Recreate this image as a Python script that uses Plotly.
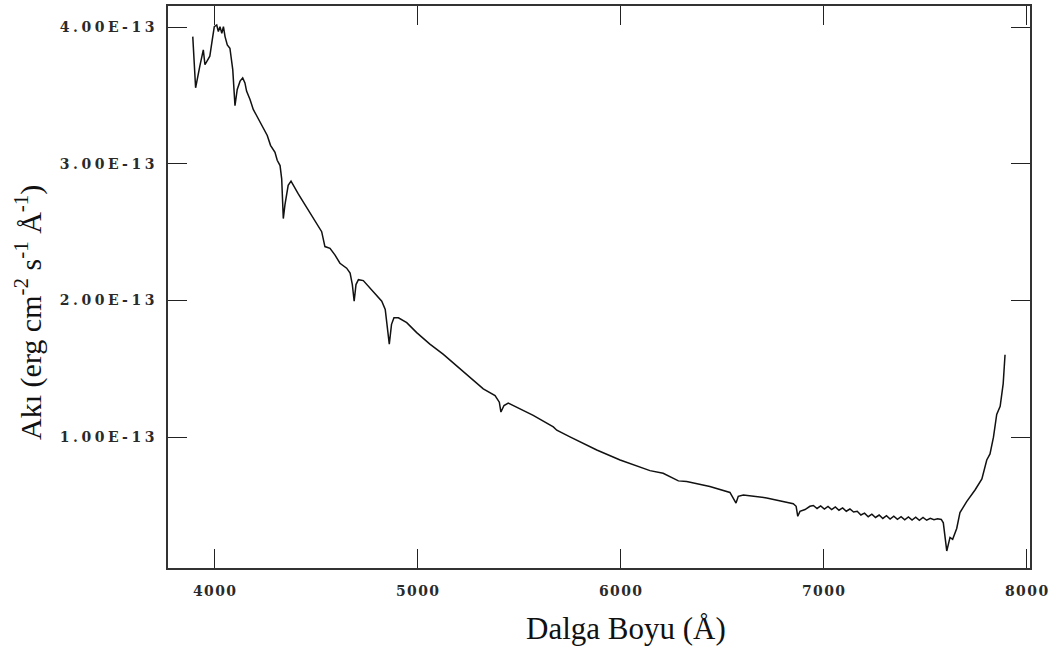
import numpy as np
import plotly.graph_objects as go

# Wavelength (Angstrom) and flux (units of 1e-13 erg cm^-2 s^-1 A^-1)
wavelength = [
    3893, 3907, 3928, 3945, 3953, 3969, 3977, 3989, 3999, 4011, 4019, 4027, 4036, 4044,
    4052, 4063, 4076, 4090, 4101, 4112, 4126, 4139, 4150, 4158, 4175, 4191, 4207, 4232,
    4260, 4276, 4298, 4309, 4323, 4331, 4339, 4347, 4363, 4377, 4388, 4412, 4437, 4471,
    4504, 4528, 4544, 4569, 4593, 4618, 4651, 4668, 4679, 4688, 4697, 4709, 4733, 4758,
    4791, 4824, 4841, 4851, 4861, 4872, 4884, 4906, 4947, 4996, 5061, 5126, 5209, 5275,
    5324, 5382, 5403, 5411, 5426, 5447, 5505, 5537, 5570, 5669, 5686, 5751, 5883, 5998,
    6145, 6210, 6260, 6285, 6326, 6440, 6539, 6556, 6569, 6580, 6605, 6720, 6851, 6865,
    6873, 6884, 6909, 6933,
    6950, 6968, 6986, 7004, 7022, 7040, 7058, 7076, 7094, 7112, 7130, 7148, 7166, 7184,
    7202, 7220, 7238, 7256, 7274, 7292, 7310, 7328, 7346, 7364, 7382, 7400, 7418, 7436,
    7454, 7472, 7490, 7508, 7526, 7544, 7562, 7580,
    7590, 7607, 7623, 7636, 7656, 7672, 7705, 7747, 7780, 7804, 7820, 7837, 7853, 7870,
    7885, 7894,
]
flux_e13 = [
    3.932, 3.557, 3.717, 3.835, 3.726, 3.762, 3.789, 3.908, 4.005, 4.017, 3.969, 4.005, 3.956, 4.005,
    3.932, 3.871, 3.847, 3.690, 3.426, 3.545, 3.606, 3.630, 3.593, 3.533, 3.472, 3.399, 3.354, 3.281,
    3.208, 3.136, 3.085, 3.027, 2.988, 2.891, 2.600, 2.700, 2.843, 2.874, 2.843, 2.782, 2.722, 2.637,
    2.564, 2.504, 2.395, 2.382, 2.334, 2.273, 2.237, 2.201, 2.117, 1.995, 2.117, 2.153, 2.146, 2.104,
    2.055, 1.995, 1.935, 1.801, 1.681, 1.826, 1.874, 1.874, 1.838, 1.765, 1.681, 1.608, 1.499, 1.414,
    1.354, 1.305, 1.256, 1.184, 1.232, 1.249, 1.208, 1.184, 1.160, 1.075, 1.051, 1.002, 0.906, 0.833,
    0.755, 0.736, 0.700, 0.680, 0.675, 0.639, 0.595, 0.555, 0.518, 0.567, 0.577, 0.555, 0.513, 0.494,
    0.421, 0.457, 0.470, 0.494,
    0.500, 0.478, 0.497, 0.474, 0.493, 0.470, 0.489, 0.465, 0.482, 0.458, 0.474, 0.452, 0.458, 0.430,
    0.444, 0.418, 0.436, 0.412, 0.430, 0.405, 0.425, 0.400, 0.421, 0.398, 0.418, 0.395, 0.416, 0.393,
    0.414, 0.392, 0.412, 0.392, 0.406, 0.396, 0.402, 0.398,
    0.373, 0.167, 0.266, 0.252, 0.332, 0.448, 0.528, 0.615, 0.695, 0.833, 0.877, 1.000, 1.167, 1.225,
    1.392, 1.603,
]

x_ticks = [4000, 5000, 6000, 7000, 8000]
x_tick_labels = ["4000", "5000", "6000", "7000", "8000"]
y_ticks = [1e-13, 2e-13, 3e-13, 4e-13]
y_tick_labels = ["1.00E-13", "2.00E-13", "3.00E-13", "4.00E-13"]

flux = np.array(flux_e13) * 1e-13


def spaced(s, sep=" "):
    return "<b>" + sep.join(list(s)) + "</b>"


fig = go.Figure()
fig.add_trace(go.Scatter(
    x=wavelength, y=flux, mode="lines",
    line=dict(color="#111111", width=1.5),
    showlegend=False, hoverinfo="skip",
))

axis_common = dict(
    showline=True, linecolor="#333333", linewidth=1.6, mirror="allticks",
    ticks="inside", ticklen=19, tickwidth=1.4, tickcolor="#222222",
    showgrid=False, zeroline=False,
)

fig.update_xaxes(
    range=[3771, 8017], tickvals=x_ticks,
    ticktext=[spaced(t, "\u200a") for t in x_tick_labels],
    tickfont=dict(family="DejaVu Serif", size=14, color="#2a2a2a"),
    ticklabelstandoff=9, **axis_common,
)
fig.update_yaxes(
    range=[0.0423e-13, 4.156e-13], tickvals=y_ticks,
    ticktext=[spaced(t, "\u2005") for t in y_tick_labels],
    tickfont=dict(family="DejaVu Serif", size=14, color="#2a2a2a"),
    ticklabelstandoff=9, **axis_common,
)

fig.add_annotation(
    text="Akı (erg cm<sup>-2</sup> s<sup>-1</sup> Å<sup>-1</sup>)",
    xref="paper", yref="paper", x=(29 - 168) / 862, y=(568 - 312) / 564,
    xanchor="center", yanchor="middle", textangle=-90, showarrow=False,
    font=dict(family="Liberation Serif", size=30, color="#111111"),
)
fig.add_annotation(
    text="Dalga Boyu (Å)",
    xref="paper", yref="paper", x=(626 - 168) / 862, y=(568 - 629) / 564,
    xanchor="center", yanchor="middle", showarrow=False,
    font=dict(family="Liberation Serif", size=31, color="#111111"),
)

fig.update_layout(
    width=1052, height=652,
    margin=dict(l=168, r=22, t=4, b=84),
    paper_bgcolor="white", plot_bgcolor="white",
)

fig.write_html("out.html")
